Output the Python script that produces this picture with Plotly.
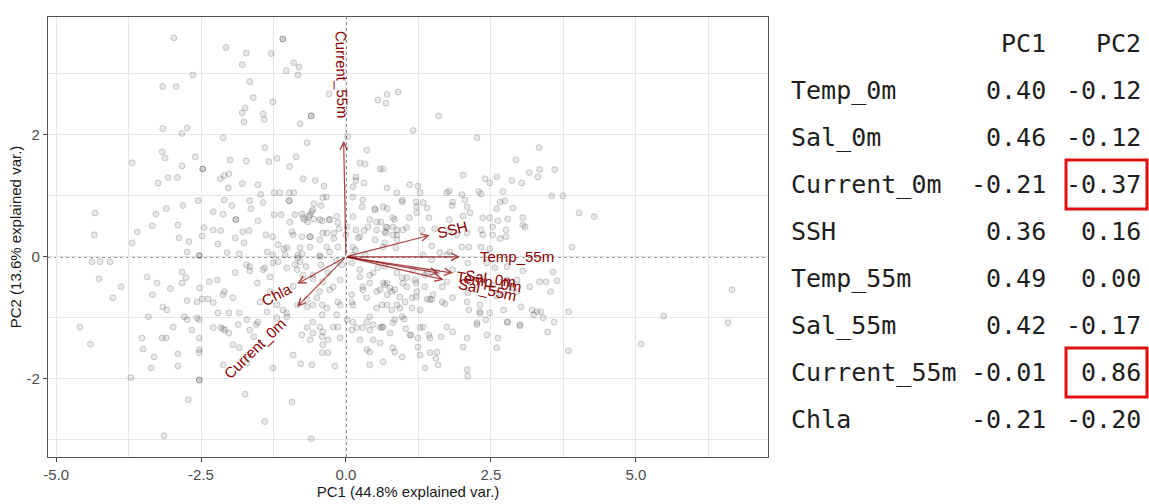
import math
import plotly.graph_objects as go

# ---------------------------------------------------------------------------
# Observation scores on the first two principal components (PC1, PC2)
# ---------------------------------------------------------------------------
scores = [
    (-2.97, 3.59), (-1.09, 3.57), (-2.07, 3.43), (-1.72, 3.34), (-1.29, 3.33), (-1.79, 3.15), (-1.03, 3.05), (-0.90, 3.18), (-0.81, 3.11), (-0.83, 2.98),
    (-2.64, 2.98), (-3.16, 2.79), (-2.93, 2.79), (-1.66, 2.87), (-1.60, 2.61), (-1.26, 2.54), (-0.29, 2.67), (-1.79, 2.36), (-1.74, 2.44), (-1.76, 2.21),
    (-1.43, 2.34), (-1.41, 2.25), (-0.60, 2.31), (-0.79, 2.18), (-3.16, 2.10), (-2.74, 2.11), (-2.83, 2.02), (-2.12, 1.95), (-0.67, 1.87), (-1.40, 1.79),
    (-3.17, 1.72), (-3.12, 1.62), (-2.60, 1.64), (-0.86, 1.64), (-3.69, 1.54), (-1.72, 1.57), (-1.19, 1.61), (-2.00, 1.59), (-2.83, 1.49), (-1.33, 1.56),
    (-0.97, 1.48), (-2.47, 1.44), (-3.24, 1.21), (-3.07, 1.30), (-2.91, 1.30), (-2.17, 1.28), (-2.10, 1.33), (-2.02, 1.36), (-1.79, 1.20), (-1.52, 1.18),
    (-2.03, 1.13), (-0.74, 1.28), (-0.53, 1.25), (-0.38, 1.16), (-1.47, 1.02), (-2.55, 0.92), (-2.10, 0.93), (-1.66, 0.92), (-1.43, 0.89), (-1.24, 1.05),
    (-1.14, 1.05), (-0.98, 1.05), (-0.90, 1.05), (-0.98, 0.92), (-0.34, 0.98), (-0.40, 0.97), (-4.33, 0.72), (-3.28, 0.70), (-3.10, 0.79), (-2.81, 0.84),
    (-2.29, 0.74), (-2.12, 0.70), (-1.97, 0.84), (-1.64, 0.79), (-1.24, 0.69), (-1.12, 0.69), (-0.88, 0.69), (-0.76, 0.70), (-0.55, 0.87), (-0.43, 0.84),
    (-0.59, 0.74), (-0.62, 0.69), (-3.60, 0.41), (-3.34, 0.51), (-2.90, 0.52), (-2.45, 0.48), (-2.29, 0.44), (-2.16, 0.43), (-1.90, 0.61), (-1.91, 0.31),
    (-1.78, 0.41), (-1.67, 0.43), (-1.52, 0.59), (-1.38, 0.36), (-0.93, 0.41), (-0.71, 0.61), (-0.64, 0.66), (-0.55, 0.62), (-0.41, 0.59), (-0.29, 0.61),
    (-0.16, 0.66), (-4.34, 0.36), (-3.69, 0.23), (-2.88, 0.31), (-2.71, 0.25), (-2.48, 0.34), (-2.21, 0.21), (-1.76, 0.23), (-1.26, 0.33), (-1.07, 0.13),
    (-0.91, 0.36), (-0.62, 0.33), (-0.40, 0.39), (-0.21, 0.39), (-0.12, 0.46), (-0.21, 0.30), (0.00, 0.36), (0.12, 0.66), (0.17, 1.25), (0.31, 1.21),
    (0.36, 1.75), (0.03, 1.97), (0.24, 1.54), (0.33, 1.52), (0.55, 2.57), (0.71, 2.66), (0.69, 2.52), (0.59, 1.44), (0.64, 1.44), (0.71, 1.13),
    (0.50, 0.79), (0.71, 0.79), (0.12, 0.98), (0.29, 0.93), (0.17, 1.31), (0.12, 1.15), (0.28, 0.82), (0.41, 0.61), (0.60, 0.57), (0.81, 0.49),
    (0.88, 1.05), (0.90, 2.70), (0.02, 0.49), (0.17, 0.44), (0.31, 0.43), (0.21, 0.31), (0.53, 0.44), (0.69, 0.39), (0.81, 0.36), (0.86, 0.15),
    (0.64, 0.16), (0.50, 0.28), (0.12, 0.16), (0.12, 0.03), (-0.33, 0.16), (-0.45, 0.02), (-0.76, 0.05), (-0.83, 0.03), (-1.02, 0.15), (-1.26, 0.03),
    (-1.84, 0.05), (-2.05, 0.07), (-2.53, 0.02), (-2.74, 0.08),
    (1.60, 2.31), (1.16, 2.07), (2.26, 1.95), (3.33, 1.79), (2.93, 1.59), (3.16, 1.38), (3.34, 1.43), (3.31, 1.31), (3.60, 1.43), (2.02, 1.34),
    (2.40, 1.28), (2.48, 1.21), (2.60, 1.31), (2.86, 1.25), (3.03, 1.21), (1.10, 1.18), (1.24, 1.16), (1.28, 1.05), (1.74, 1.05), (1.78, 1.08),
    (2.00, 1.02), (2.29, 1.07), (2.33, 1.03), (2.71, 1.07), (3.55, 1.00), (3.74, 1.00), (0.97, 0.90), (1.21, 0.90), (1.33, 0.89), (1.84, 0.90),
    (2.05, 0.93), (2.66, 0.90), (2.74, 0.92), (0.64, 0.82), (1.22, 0.82), (1.40, 0.80), (1.83, 0.84), (2.09, 0.82), (2.60, 0.79), (2.88, 0.80),
    (4.02, 0.72), (4.28, 0.66), (0.84, 0.61), (1.09, 0.64), (1.22, 0.72), (1.43, 0.64), (1.78, 0.61), (2.02, 0.67), (2.14, 0.72), (2.36, 0.64),
    (2.48, 0.64), (2.62, 0.59), (2.79, 0.62), (3.05, 0.64), (3.05, 0.52), (0.69, 0.49), (0.88, 0.44), (1.05, 0.48), (1.31, 0.44), (2.33, 0.44),
    (2.53, 0.49), (2.76, 0.44), (3.09, 0.49), (0.67, 0.41), (0.88, 0.36), (1.53, 0.46), (1.78, 0.43), (1.91, 0.36), (2.09, 0.39), (2.36, 0.36),
    (2.53, 0.36), (2.66, 0.30), (2.76, 0.33), (1.48, 0.18), (2.00, 0.16), (2.12, 0.16), (2.33, 0.16), (2.48, 0.13), (3.90, 0.16), (1.62, 0.07),
    (1.79, 0.08),
    (-4.38, -0.08), (-4.24, -0.08), (-4.07, -0.08), (-4.26, -0.36), (-3.88, -0.49), (-4.02, -0.67), (-4.59, -1.15), (-4.41, -1.43), (-3.43, -0.33), (-3.26, -0.43),
    (-3.03, -0.52), (-3.34, -0.62), (-3.16, -0.82), (-3.09, -0.87), (-3.41, -0.98), (-2.98, -1.15), (-3.17, -1.33), (-3.10, -1.33), (-3.52, -1.33), (-3.50, -1.51),
    (-3.31, -1.64), (-3.36, -1.82), (-2.90, -1.59), (-2.90, -1.79), (-2.83, -0.25), (-2.76, -0.34), (-2.83, -0.43), (-2.74, -0.72), (-2.57, -0.74), (-2.48, -0.69),
    (-2.38, -0.69), (-2.29, -0.75), (-2.52, -0.51), (-2.36, -0.41), (-2.22, -0.38), (-2.10, -0.57), (-1.91, -0.26), (-1.72, -0.13), (-1.66, -0.23), (-1.53, -0.43),
    (-1.40, -0.18), (-1.31, -0.33), (-1.17, -0.08), (-1.02, -0.18), (-0.79, -0.08), (-0.69, -0.16), (-0.57, -0.36), (-0.43, -0.13), (-0.31, -0.26), (-0.17, -0.07),
    (-0.07, -0.13), (-2.79, -0.98), (-2.74, -1.03), (-2.57, -1.00), (-2.66, -1.20), (-2.53, -1.03), (-2.53, -1.33), (-2.53, -1.52), (-2.53, -1.57), (-2.29, -1.16),
    (-2.16, -1.16), (-2.12, -1.18), (-2.02, -1.25), (-2.21, -0.92), (-2.02, -0.92), (-1.84, -0.92), (-1.71, -1.03), (-1.55, -1.11), (-1.59, -1.31), (-1.84, -1.49),
    (-1.69, -1.61), (-1.95, -1.44), (-2.12, -1.77), (-1.71, -1.74), (-1.26, -1.82), (-0.91, -1.61), (-0.78, -1.75), (-0.59, -1.77), (-0.41, -1.57), (-0.31, -1.57),
    (-0.19, -1.79), (-0.67, -1.16), (-0.57, -1.25), (-0.45, -1.15), (-0.41, -1.31), (-0.31, -1.36), (-0.14, -1.15), (0.10, -1.20), (0.19, -1.16), (0.36, -1.52),
    (0.47, -1.36), (0.64, -1.72), (0.41, -1.20), (0.59, -1.16), (-0.14, -0.74), (0.10, -0.74), (0.29, -0.54), (0.41, -0.43), (0.59, -0.54), (0.71, -0.43),
    (0.84, -0.54), (0.24, -0.33), (0.47, -0.26), (0.67, -0.16), (0.88, -0.26), (0.79, -0.87), (0.41, -0.98), (0.36, -1.07), (0.02, -1.03), (-0.16, -0.95),
    (-0.41, -0.95), (-0.57, -0.79), (-0.41, -0.79), (-0.28, -0.54), (-0.45, -0.57), (-0.67, -0.70), (-1.09, -0.87), (-1.02, -0.98), (-1.19, -0.79), (-1.31, -0.57),
    (-1.48, -0.74), (-0.91, -0.48), (-0.84, -0.21), (-3.71, -1.98), (-2.53, -2.02), (-2.72, -2.34), (-1.74, -2.25), (-1.40, -2.70), (-0.93, -2.38), (-3.14, -2.93),
    (-0.60, -2.98), (0.41, -1.77),
    (6.66, -0.54), (5.48, -0.97), (6.59, -1.08), (5.09, -1.43), (3.84, -0.90), (3.84, -1.54), (3.57, -0.25), (3.64, -0.39), (3.53, -0.57), (3.45, -0.41),
    (3.36, -0.90), (3.21, -0.87), (3.24, -0.95), (3.59, -1.07), (3.48, -1.23), (3.00, -1.13), (2.79, -1.07), (3.02, -0.82), (2.72, -0.87), (2.62, -1.33),
    (2.41, -1.03), (2.26, -1.11), (2.31, -0.93), (2.12, -0.87), (2.02, -1.48), (2.09, -1.85), (2.10, -1.95), (1.59, -1.77), (1.55, -1.66), (1.45, -1.57),
    (1.36, -1.82), (1.24, -1.48), (1.64, -1.31), (1.43, -1.28), (1.33, -1.15), (1.24, -1.33), (1.12, -1.28), (1.03, -1.18), (1.00, -1.02), (0.84, -1.03),
    (0.76, -1.25), (0.84, -1.56), (0.62, -1.15), (0.93, -0.84), (1.14, -0.67), (1.40, -0.69), (1.48, -0.70), (1.21, -0.66), (1.71, -0.77), (0.67, -0.46),
    (0.79, -0.57), (0.93, -0.66), (0.98, -0.43), (1.21, -0.43), (0.71, -0.62), (0.62, -0.79), (1.66, -0.49), (2.10, -0.59), (2.31, -0.79), (2.60, -0.64),
    (2.72, -0.61), (2.86, -0.51), (2.95, -0.38), (3.05, -0.23), (2.78, -0.16), (2.57, -0.18), (2.43, -0.10), (2.10, -0.10), (1.74, 0.03), (1.33, 0.03),
    (1.16, -0.21), (1.05, -0.34), (1.40, -0.25), (1.84, -0.21), (1.48, -0.05),
    (-1.66, -0.16), (-1.43, -0.21), (-1.26, -0.10), (-0.88, -0.13), (-0.74, -0.30), (-0.57, -0.30), (-0.40, -0.41), (-0.22, -0.49), (-0.10, -0.38), (0.10, -0.10),
    (0.24, -0.21), (0.41, -0.30), (0.55, -0.18), (0.29, -0.49), (0.53, -0.57), (0.76, -0.51), (1.05, -0.49), (1.22, -0.57), (1.36, -0.49), (1.50, -0.62),
    (1.19, -0.38), (0.97, -0.34), (0.64, -0.43), (0.36, -0.67), (0.12, -0.79), (0.10, -0.62), (-0.10, -0.79), (-0.33, -0.84), (-0.50, -0.67), (-0.67, -0.82),
    (-0.84, -0.79), (-1.02, -0.92), (-1.19, -1.00), (-1.36, -0.90), (-1.52, -1.07), (-1.66, -1.20), (-1.86, -1.11), (-2.09, -1.20), (-2.12, -0.62), (-1.95, -0.67),
    (-0.57, -1.07), (-0.40, -1.23), (-0.22, -1.15), (-0.10, -1.33), (-0.40, -1.44), (-0.62, -1.36), (-0.76, -1.28), (0.12, -1.07), (0.29, -1.16), (0.47, -1.11),
    (0.64, -1.15), (0.81, -1.08), (0.97, -0.98), (1.14, -0.84), (1.28, -0.87), (1.45, -0.70), (1.66, -0.74), (1.84, -0.67), (2.09, -0.74), (2.31, -0.90),
    (2.48, -0.92), (2.78, -1.07), (3.00, -1.11), (3.29, -0.90), (3.40, -1.00), (0.59, -1.41), (0.81, -1.49), (1.10, -1.28), (1.28, -1.16), (1.45, -1.33),
    (1.74, -1.15), (1.84, -1.23), (2.09, -1.33), (2.26, -1.08), (2.43, -1.28), (2.60, -1.49), (1.57, -1.56), (1.28, -1.61), (0.97, -1.64), (0.41, -1.56),
    (0.24, -1.36), (0.53, -0.84), (0.71, -0.79), (0.88, -0.79), (1.02, -0.74), (1.36, -0.30), (1.57, -0.25), (1.74, -0.41), (2.14, -0.41), (2.36, -0.33),
    (2.53, -0.46), (2.78, -0.38), (2.95, -0.57), (3.17, -0.49), (3.34, -0.41),
    (0.97, 0.93), (0.50, 0.77), (0.81, 0.64), (0.71, 0.48), (0.53, 0.57), (0.38, 0.49), (0.24, 0.33), (0.67, 0.23), (0.88, 0.28), (0.98, 0.44),
    (0.16, 0.11), (0.33, 0.03), (-0.33, 0.39), (-0.45, 0.28), (-0.28, 0.61), (-0.14, 0.56), (-0.45, 0.61), (-0.57, 0.77), (-0.74, 0.64), (-0.66, 0.57),
    (-0.97, 0.57), (-0.76, 0.33), (-0.62, 0.16), (-0.79, 0.15), (-1.17, 0.20), (-1.36, 0.08), (-1.05, 0.03), (-0.84, -0.02), (-0.45, 0.00), (-0.28, 0.08),
    (-0.14, 0.16),
    # coincident observations (overplotted, hence darker)
    (-2.53, 0.02), (-0.98, 0.92), (-0.60, 2.31), (-2.47, 1.44), (-1.90, 0.61), (-0.62, 0.33), (-1.09, 3.57), (-2.53, -2.02),
]
pc1_scores = [s[0] for s in scores]
pc2_scores = [s[1] for s in scores]

# ---------------------------------------------------------------------------
# Variable loadings and explained variance
# ---------------------------------------------------------------------------
variables = ["Temp_0m", "Sal_0m", "Current_0m", "SSH", "Temp_55m", "Sal_55m", "Current_55m", "Chla"]
loading_pc1 = [0.40, 0.46, -0.21, 0.36, 0.49, 0.42, -0.01, -0.21]
loading_pc2 = [-0.12, -0.12, -0.37, 0.16, 0.00, -0.17, 0.86, -0.20]
explained_var = [44.8, 13.6]
boxed_pc2 = ["Current_0m", "Current_55m"]

x_ticks = [-5.0, -2.5, 0.0, 2.5, 5.0]
y_ticks = [-2, 0, 2]

# ---------------------------------------------------------------------------
# Layout constants
# ---------------------------------------------------------------------------
W, H = 1149, 504
M_L, M_R, M_T, M_B = 48, 381, 17, 47
X_RANGE = [-5.14, 7.28]
Y_RANGE = [-3.28, 3.93]

AXIS_FONT = "Liberation Sans, Arial, sans-serif"
TABLE_FONT = "DejaVu Sans Mono, Liberation Mono, monospace"
ARROW_COLOR = "rgba(139,0,0,0.72)"
LABEL_COLOR = "#8B0000"
LABEL_SIZE = 15
GRID_COLOR = "#e6e6e6"

PLOT_W = W - M_L - M_R
PLOT_H = H - M_T - M_B


def paper_x(px):
    return (px - M_L) / PLOT_W


def paper_y(py):
    return (H - M_B - py) / PLOT_H


# Arrow lengths follow the biplot convention: loading * component sdev * radius
n_vars = len(variables)
sdev = [math.sqrt(p / 100.0 * n_vars) for p in explained_var]
ARROW_R = 2.12
arrow_x = [v * sdev[0] * ARROW_R for v in loading_pc1]
arrow_y = [v * sdev[1] * ARROW_R for v in loading_pc2]

# Approximate Arial advance widths (per em) for label placement
CHAR_W = {"C": 0.722, "u": 0.556, "r": 0.333, "e": 0.556, "n": 0.556, "t": 0.278,
          "_": 0.556, "5": 0.556, "0": 0.556, "m": 0.833, "S": 0.667, "H": 0.722,
          "T": 0.611, "p": 0.556, "a": 0.556, "l": 0.222, "h": 0.556}


def text_width(s, size):
    return sum(CHAR_W.get(c, 0.556) for c in s) * size


fig = go.Figure()

fig.add_trace(go.Scatter(
    x=pc1_scores, y=pc2_scores, mode="markers",
    marker=dict(size=6, color="rgba(0,0,0,0.09)",
                line=dict(color="rgba(0,0,0,0.17)", width=1)),
    hoverinfo="skip", showlegend=False,
))

# dotted reference lines through the origin
fig.add_shape(type="line", xref="x", yref="paper", x0=0, x1=0, y0=0, y1=1,
              line=dict(color="#3a3a3a", width=1.2, dash="dot"), layer="between")
fig.add_shape(type="line", xref="paper", yref="y", x0=0, x1=1, y0=0, y1=0,
              line=dict(color="#3a3a3a", width=1.2, dash="dot"), layer="between")

annotations = []
# loading arrows
for vx, vy in zip(arrow_x, arrow_y):
    annotations.append(dict(
        x=vx, y=vy, ax=0, ay=0, xref="x", yref="y", axref="x", ayref="y",
        text="", showarrow=True, arrowhead=5, arrowsize=1.2, arrowwidth=1.2,
        arrowcolor=ARROW_COLOR, standoff=0, startstandoff=0,
    ))
# variable names, rotated along their arrows
for name, vx, vy in zip(variables, arrow_x, arrow_y):
    ang = math.degrees(math.atan(vy / vx))
    side = 1 if vx > 0 else -1
    off = 0.75 * text_width(name, LABEL_SIZE) * side
    annotations.append(dict(
        x=vx, y=vy, xref="x", yref="y", text=name, showarrow=False,
        textangle=-ang, xanchor="center", yanchor="middle",
        xshift=off * math.cos(math.radians(ang)),
        yshift=off * math.sin(math.radians(ang)),
        font=dict(family=AXIS_FONT, size=LABEL_SIZE, color=LABEL_COLOR),
    ))

# loadings table
TBL_LEFT, PC1_RIGHT, PC2_RIGHT = 789, 1048, 1143
ROW0, ROW_H = 43, 47
TBL_SIZE = 25
tfont = dict(family=TABLE_FONT, size=TBL_SIZE, color="#1e1e1e")

for col_right, head in ((PC1_RIGHT, "PC1"), (PC2_RIGHT, "PC2")):
    annotations.append(dict(x=paper_x(col_right), y=paper_y(ROW0), xref="paper", yref="paper",
                            text=head, showarrow=False, xanchor="right", yanchor="middle", font=tfont))
for i, (name, a, b) in enumerate(zip(variables, loading_pc1, loading_pc2)):
    yc = paper_y(ROW0 + ROW_H * (i + 1))
    annotations.append(dict(x=paper_x(TBL_LEFT), y=yc, xref="paper", yref="paper", text=name,
                            showarrow=False, xanchor="left", yanchor="middle", font=tfont))
    annotations.append(dict(x=paper_x(PC1_RIGHT), y=yc, xref="paper", yref="paper", text=f"{a:.2f}",
                            showarrow=False, xanchor="right", yanchor="middle", font=tfont))
    annotations.append(dict(x=paper_x(PC2_RIGHT), y=yc, xref="paper", yref="paper", text=f"{b:.2f}",
                            showarrow=False, xanchor="right", yanchor="middle", font=tfont))

for name in boxed_pc2:
    i = variables.index(name)
    yc = ROW0 + ROW_H * (i + 1)
    fig.add_shape(type="rect", xref="paper", yref="paper",
                  x0=paper_x(PC2_RIGHT - 77), x1=paper_x(PC2_RIGHT + 4),
                  y0=paper_y(yc + 25), y1=paper_y(yc - 24),
                  line=dict(color="#e01010", width=3), fillcolor="rgba(0,0,0,0)")

axis_common = dict(
    showline=True, mirror=True, linecolor="#555555", linewidth=1.4,
    ticks="outside", ticklen=4, tickcolor="#444444", tickwidth=1,
    showgrid=True, gridcolor=GRID_COLOR, gridwidth=1, zeroline=False,
    tickfont=dict(family=AXIS_FONT, size=15, color="#4d4d4d"),
    automargin=False,
)

fig.update_xaxes(
    range=X_RANGE, tickmode="array", tickvals=x_ticks,
    ticktext=[f"{v:.1f}" for v in x_ticks],
    minor=dict(dtick=1.25, tick0=0, showgrid=True, gridcolor=GRID_COLOR, ticklen=0),
    title=dict(text=f"PC1 ({explained_var[0]}% explained var.)", standoff=4,
               font=dict(family=AXIS_FONT, size=15, color="#1a1a1a")),
    **axis_common,
)
fig.update_yaxes(
    range=Y_RANGE, tickmode="array", tickvals=y_ticks,
    ticktext=[f"{v:d}" for v in y_ticks],
    minor=dict(dtick=1, tick0=0, showgrid=True, gridcolor=GRID_COLOR, ticklen=0),
    title=dict(text=f"PC2 ({explained_var[1]}% explained var.)", standoff=1,
               font=dict(family=AXIS_FONT, size=15, color="#1a1a1a")),
    **axis_common,
)

fig.update_layout(
    width=W, height=H,
    margin=dict(l=M_L, r=M_R, t=M_T, b=M_B),
    paper_bgcolor="white", plot_bgcolor="white",
    annotations=annotations, showlegend=False,
)

fig.write_html("out.html")
